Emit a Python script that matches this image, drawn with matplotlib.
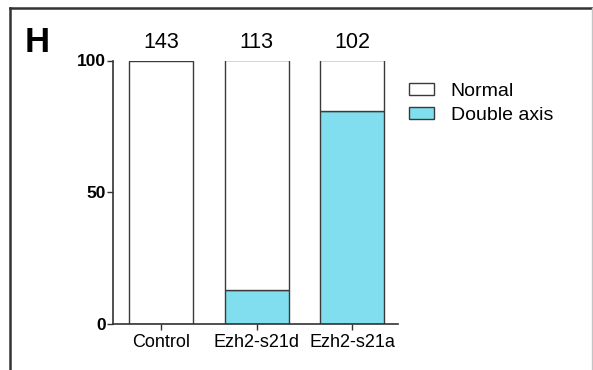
import matplotlib
matplotlib.use("Agg")
import matplotlib.pyplot as plt
from matplotlib.lines import Line2D
import numpy as np

plt.rcParams['font.family'] = ['Liberation Sans', 'DejaVu Sans']

categories = ["Control", "Ezh2-s21d", "Ezh2-s21a"]
double_axis = [0, 13, 81]
normal = [100, 87, 19]
counts = ["143", "113", "102"]
yticks = [0, 50, 100]
series_labels = ["Normal", "Double axis"]

W, H = 593, 370
fig = plt.figure(figsize=(W / 100, H / 100), dpi=100)

ax = fig.add_axes([113 / W, 1 - 324.3 / H, (398 - 113) / W, (324.3 - 60.5) / H])
x = np.arange(len(categories))
bw = 0.67
cyan = "#80deee"
edge = "#3a3a3a"
b1 = ax.bar(x, double_axis, bw, color=cyan, edgecolor=edge, linewidth=1.0, label=series_labels[1])
b2 = ax.bar(x, normal, bw, bottom=double_axis, color="white", edgecolor=edge, linewidth=1.0, label=series_labels[0])

ax.set_xlim(-0.503, 2.48)
ax.set_ylim(0, 100)
ax.set_yticks(yticks)
ax.set_yticklabels([str(t) for t in yticks], fontsize=12.5, fontweight="bold")
ax.set_xticks(x)
ax.set_xticklabels(categories, fontsize=13)
for s in ["top", "right"]:
    ax.spines[s].set_visible(False)
for s in ["left", "bottom"]:
    ax.spines[s].set_linewidth(1.2)
    ax.spines[s].set_color("#333333")
ax.tick_params(axis="both", length=4, width=1.0, color="#333333", pad=1.0)
ax.tick_params(axis="x", pad=3)

for xi, c in zip(x, counts):
    ax.text(xi, 103, c, ha="center", va="bottom", fontsize=15.5, clip_on=False)

fig.text(25 / W, 1 - 52 / H, "H", fontsize=25, fontweight="bold", ha="left", va="baseline")

leg = fig.legend([b2, b1], series_labels, loc="upper left",
                 bbox_to_anchor=(409 / W, 1 - 83 / H), frameon=False,
                 fontsize=14, handlelength=1.29, handleheight=0.57,
                 handletextpad=0.85, labelspacing=0.34, borderpad=0, borderaxespad=0)

# panel frame
fig.add_artist(Line2D([10 / W, 592 / W], [1 - 8 / H, 1 - 8 / H], color="#333333", linewidth=1.8))
fig.add_artist(Line2D([10 / W, 10 / W], [0, 1 - 8 / H], color="#333333", linewidth=1.8))
fig.add_artist(Line2D([592 / W, 592 / W], [0, 1 - 8 / H], color="#c4c4c4", linewidth=1.0))

fig.savefig("out.png", dpi=100)
